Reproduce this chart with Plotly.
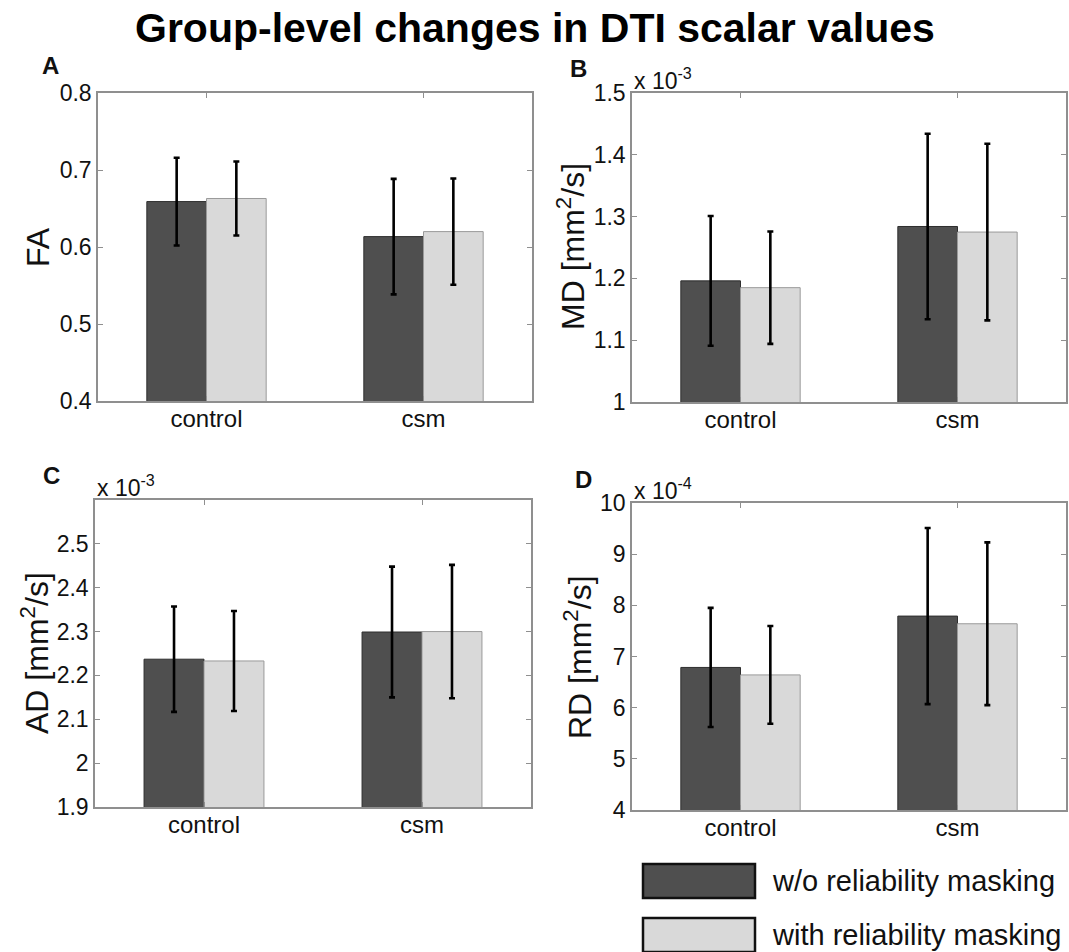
import plotly.graph_objects as go
from plotly.subplots import make_subplots

# ---------------- data ----------------
categories = ["control", "csm"]
series_names = ["w/o reliability masking", "with reliability masking"]

fa_without = [0.659, 0.6135]
fa_with = [0.663, 0.620]
fa_sd_without = [0.057, 0.075]
fa_sd_with = [0.048, 0.069]

md_without = [1.196e-3, 1.284e-3]
md_with = [1.185e-3, 1.275e-3]
md_sd_without = [0.105e-3, 0.150e-3]
md_sd_with = [0.091e-3, 0.143e-3]

ad_without = [2.237e-3, 2.299e-3]
ad_with = [2.233e-3, 2.300e-3]
ad_sd_without = [0.120e-3, 0.149e-3]
ad_sd_with = [0.114e-3, 0.152e-3]

rd_without = [6.786e-4, 7.79e-4]
rd_with = [6.64e-4, 7.64e-4]
rd_sd_without = [1.165e-4, 1.72e-4]
rd_sd_with = [0.955e-4, 1.59e-4]

fa_ticks = [0.4, 0.5, 0.6, 0.7, 0.8]
fa_ticktext = ["0.4", "0.5", "0.6", "0.7", "0.8"]
md_ticks = [1.0e-3, 1.1e-3, 1.2e-3, 1.3e-3, 1.4e-3, 1.5e-3]
md_ticktext = ["1", "1.1", "1.2", "1.3", "1.4", "1.5"]
ad_ticks = [1.9e-3, 2.0e-3, 2.1e-3, 2.2e-3, 2.3e-3, 2.4e-3, 2.5e-3]
ad_ticktext = ["1.9", "2", "2.1", "2.2", "2.3", "2.4", "2.5"]
rd_ticks = [4e-4, 5e-4, 6e-4, 7e-4, 8e-4, 9e-4, 10e-4]
rd_ticktext = ["4", "5", "6", "7", "8", "9", "10"]

# ---------------- styling ----------------
W, H = 1069, 952
FONT = "Liberation Sans, Arial, Helvetica, sans-serif"
bar_colors = ["#4f4f4f", "#d9d9d9"]
bar_edges = ["#2e2e2e", "#9a9a9a"]
axis_grey = "#8f8f8f"
text_col = "#111111"

panels = [
    dict(letter="A", title="FA", means=[fa_without, fa_with], sds=[fa_sd_without, fa_sd_with],
         yrange=[0.4, 0.8], ticks=fa_ticks, ticktext=fa_ticktext, expo=None,
         box=(98, 532, 93, 401), title_xy=(38, 247), letter_xy=(50, 66)),
    dict(letter="B", title="MD [mm<sup>2</sup>/s]", means=[md_without, md_with], sds=[md_sd_without, md_sd_with],
         yrange=[1.0e-3, 1.5e-3], ticks=md_ticks, ticktext=md_ticktext, expo="x 10<sup>-3</sup>",
         box=(632, 1066, 93, 402), title_xy=(571, 247), letter_xy=(578, 69)),
    dict(letter="C", title="AD [mm<sup>2</sup>/s]", means=[ad_without, ad_with], sds=[ad_sd_without, ad_sd_with],
         yrange=[1.9e-3, 2.6e-3], ticks=ad_ticks, ticktext=ad_ticktext, expo="x 10<sup>-3</sup>",
         box=(95, 531, 500, 807), title_xy=(35, 653), letter_xy=(51, 475)),
    dict(letter="D", title="RD [mm<sup>2</sup>/s]", means=[rd_without, rd_with], sds=[rd_sd_without, rd_sd_with],
         yrange=[4e-4, 10e-4], ticks=rd_ticks, ticktext=rd_ticktext, expo="x 10<sup>-4</sup>",
         box=(632, 1066, 503, 810), title_xy=(578, 657), letter_xy=(583, 479)),
]

fig = make_subplots(rows=2, cols=2)
annotations = []
shapes = []

for i, p in enumerate(panels):
    row, col = i // 2 + 1, i % 2 + 1
    for s in range(2):
        fig.add_trace(
            go.Bar(
                x=categories, y=p["means"][s], name=series_names[s],
                marker=dict(color=bar_colors[s], line=dict(color=bar_edges[s], width=1)),
                error_y=dict(type="data", array=p["sds"][s], visible=True,
                             color="black", thickness=2.6, width=3),
                showlegend=False,
            ),
            row=row, col=col,
        )
    x0, x1, y0, y1 = p["box"]
    xd = [x0 / W, x1 / W]
    yd = [1 - y1 / H, 1 - y0 / H]
    axn = "" if i == 0 else str(i + 1)
    fig.layout["xaxis" + axn].update(
        domain=xd, range=[-0.5, 1.5], showline=True, linecolor=axis_grey, linewidth=1.5,
        mirror="allticks", ticks="inside", ticklen=5, tickcolor=axis_grey, showgrid=False,
        zeroline=False, tickfont=dict(family=FONT, size=24, color=text_col), automargin=False,
        ticklabelstandoff=-5,
    )
    fig.layout["yaxis" + axn].update(
        domain=yd, range=p["yrange"], tickvals=p["ticks"], ticktext=p["ticktext"],
        showline=True, linecolor=axis_grey, linewidth=1.5, mirror="allticks", ticks="inside",
        ticklen=5, tickcolor=axis_grey, showgrid=False, zeroline=False,
        tickfont=dict(family=FONT, size=23, color=text_col), ticklabelstandoff=0, automargin=False,
    )
    tx, ty = p["title_xy"]
    annotations.append(dict(x=tx / W, y=1 - ty / H, xref="paper", yref="paper", text=p["title"],
                            textangle=-90, showarrow=False, xanchor="center", yanchor="middle",
                            font=dict(family=FONT, size=32, color=text_col)))
    lx, ly = p["letter_xy"]
    annotations.append(dict(x=lx / W, y=1 - ly / H, xref="paper", yref="paper",
                            text="<b>%s</b>" % p["letter"], showarrow=False,
                            xanchor="center", yanchor="middle",
                            font=dict(family=FONT, size=24, color=text_col)))
    if p["expo"]:
        annotations.append(dict(x=x0 / W, y=1 - y0 / H, xref="paper", yref="paper", text=p["expo"],
                                showarrow=False, xanchor="left", yanchor="bottom", xshift=0, yshift=-3,
                                font=dict(family=FONT, size=23, color=text_col)))

# figure title
annotations.append(dict(x=535 / W, y=1 - 28 / H, xref="paper", yref="paper",
                        text="<b>Group-level changes in DTI scalar values</b>", showarrow=False,
                        xanchor="center", yanchor="middle",
                        font=dict(family=FONT, size=41, color="black")))

# legend (drawn manually to match the large keys)
legend_rows = [(864, 898), (918, 952)]
for s, (ly0, ly1) in enumerate(legend_rows):
    shapes.append(dict(type="rect", xref="paper", yref="paper",
                       x0=643 / W, x1=755 / W, y0=1 - ly1 / H, y1=1 - ly0 / H,
                       fillcolor=bar_colors[s], line=dict(color="#111111", width=2.5)))
    annotations.append(dict(x=770 / W, y=1 - (ly0 + ly1) / 2 / H, xref="paper", yref="paper",
                            text=series_names[s], showarrow=False, xanchor="left", yanchor="middle",
                            font=dict(family=FONT, size=29, color=text_col)))

fig.update_layout(
    template="none",
    width=W, height=H, margin=dict(l=0, r=0, t=0, b=0, pad=0),
    paper_bgcolor="white", plot_bgcolor="white",
    barmode="group", bargap=0.45, bargroupgap=0,
    annotations=annotations, shapes=shapes, showlegend=False,
    font=dict(family=FONT, color=text_col),
)

fig.write_html(
    "out.html",
    config={"displayModeBar": False},
    post_script="document.body.style.margin='0';",
)
